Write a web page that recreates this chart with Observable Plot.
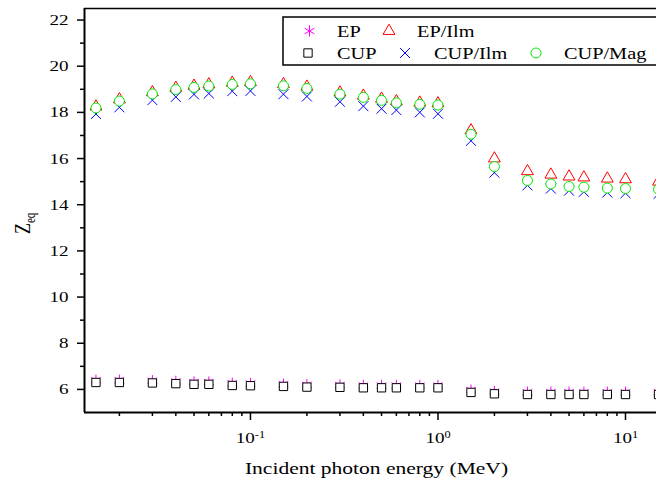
<!DOCTYPE html>
<html><head><meta charset="utf-8">
<script src="https://cdn.jsdelivr.net/npm/d3@7"></script>
<script src="https://cdn.jsdelivr.net/npm/@observablehq/plot@0.6"></script>
<style>
html,body{margin:0;padding:0;background:#fff;overflow:hidden;width:656px;height:481px}
#wrap{position:relative;width:656px;height:481px;overflow:hidden;background:#fff}
</style></head>
<body><div id="wrap"></div>
<script>
// ---- data ----
const energy = [0.015, 0.02, 0.03, 0.04, 0.05, 0.06, 0.08, 0.1, 0.15, 0.2, 0.3, 0.4, 0.5, 0.6, 0.8, 1, 1.5, 2, 3, 4, 5, 6, 8, 10, 15];
const ep     = [6.40, 6.40, 6.38, 6.35, 6.32, 6.32, 6.27, 6.26, 6.23, 6.20, 6.19, 6.17, 6.17, 6.17, 6.17, 6.17, 5.97, 5.91, 5.88, 5.88, 5.88, 5.88, 5.88, 5.88, 5.88];
const epIlm  = [18.25, 18.56, 18.87, 19.06, 19.15, 19.21, 19.28, 19.31, 19.22, 19.11, 18.86, 18.72, 18.59, 18.48, 18.42, 18.39, 17.22, 16.0, 15.45, 15.3, 15.22, 15.18, 15.13, 15.1, 15.0];
const cup    = [6.30, 6.30, 6.28, 6.25, 6.22, 6.22, 6.17, 6.16, 6.13, 6.10, 6.09, 6.07, 6.07, 6.07, 6.07, 6.07, 5.87, 5.81, 5.78, 5.78, 5.78, 5.78, 5.78, 5.78, 5.78];
const cupIlm = [17.93, 18.22, 18.53, 18.67, 18.78, 18.82, 18.92, 18.93, 18.79, 18.69, 18.46, 18.27, 18.16, 18.10, 18.00, 17.94, 16.77, 15.39, 14.84, 14.70, 14.61, 14.56, 14.53, 14.50, 14.47];
const cupMag = [18.19, 18.49, 18.80, 18.99, 19.08, 19.14, 19.21, 19.24, 19.15, 19.04, 18.79, 18.65, 18.52, 18.41, 18.35, 18.32, 17.05, 15.65, 15.05, 14.90, 14.79, 14.76, 14.72, 14.70, 14.67];
const seriesNames = ["EP", "EP/Ilm", "CUP", "CUP/Ilm", "CUP/Mag"];
const xMajor = [0.1, 1, 10];
const xMinor = [0.02,0.03,0.04,0.05,0.06,0.07,0.08,0.09, 0.2,0.3,0.4,0.5,0.6,0.7,0.8,0.9, 2,3,4,5,6,7,8,9, 20];
const yMajor = [6, 8, 10, 12, 14, 16, 18, 20, 22];
const yMinor = [7, 9, 11, 13, 15, 17, 19, 21];
const xTitle = "Incident photon energy (MeV)";

// ---- styles ----
const FONT = "'Liberation Serif','Times New Roman',serif";
const SX = 1.23;
const styles = [
  {symbol: "asterisk", stroke: "#ff00ff", fill: "none",  r: 5.3},
  {symbol: "triangle", stroke: "#ff0000", fill: "white", r: 4.4},
  {symbol: "square",   stroke: "#000000", fill: "white", r: 4.7},
  {symbol: "times",    stroke: "#0000ff", fill: "none",  r: 4.6},
  {symbol: "circle",   stroke: "#00ee00", fill: "white", r: 5}
];
const seriesVals = [ep, epIlm, cup, cupIlm, cupMag];

const W = 720, H = 481;
const plot = Plot.plot({
  width: W, height: H,
  marginLeft: 84, marginRight: 20, marginTop: 8, marginBottom: 69,
  style: {fontFamily: FONT, background: "white", color: "black"},
  x: {type: "log", domain: [Math.pow(10, -1.885), Math.pow(10, 1.4)]},
  y: {domain: [5, 22.5]},
  marks: [
    Plot.axisX({ticks: xMajor, tickSize: 8, tickPadding: 11, fontSize: 15.5, strokeWidth: 1.5,
      tickFormat: d => "10^" + Math.round(Math.log10(d)), label: null}),
    Plot.axisX({ticks: xMinor, tickSize: 4, strokeWidth: 1.5, tickFormat: () => "", label: null}),
    Plot.axisY({ticks: yMajor, tickSize: 7, tickPadding: 9, fontSize: 15.5, strokeWidth: 1.5, label: null}),
    Plot.axisY({ticks: yMinor, tickSize: 4, strokeWidth: 1.5, tickFormat: () => "", label: null}),
    Plot.ruleY([5], {stroke: "black", strokeWidth: 2}),
    Plot.ruleY([22.5], {stroke: "black", strokeWidth: 1.5}),
    Plot.ruleX([Math.pow(10, -1.885)], {stroke: "black", strokeWidth: 2}),
    ...seriesVals.map((vals, i) => Plot.dot(energy, {
      x: energy, y: vals, symbol: () => styles[i].symbol, fill: styles[i].fill,
      stroke: styles[i].stroke, r: styles[i].r, strokeWidth: 1
    }))
  ]
});
plot.style.maxWidth = "none";
plot.style.width = W + "px";
plot.style.height = H + "px";
plot.style.display = "block";
document.getElementById("wrap").appendChild(plot);

const svg = d3.select(plot);
// stretch texts horizontally like the reference
svg.selectAll("text").each(function() {
  const t = this.getAttribute("transform") || "";
  this.setAttribute("transform", (t + ` scale(${SX},1)`).trim());
});
// superscript exponents on x tick labels
svg.selectAll("text").each(function() {
  const s = this.textContent;
  if (s && s.startsWith("10^")) {
    const exp = s.slice(3);
    const el = d3.select(this);
    el.text("10");
    el.append("tspan").attr("font-size", 10).attr("dy", "-5").text(exp);
  }
});

// axis title
svg.append("text")
  .attr("transform", `translate(376.5,474) scale(${SX},1)`)
  .attr("text-anchor", "middle")
  .attr("font-family", FONT).attr("font-size", 17.5).attr("fill", "black")
  .text(xTitle);

// y label Z_eq
const yl = svg.append("text")
  .attr("transform", `translate(30,234) scale(${SX},1) rotate(-90)`)
  .attr("text-anchor", "start")
  .attr("font-family", FONT).attr("font-size", 18).attr("fill", "black");
yl.append("tspan").text("Z");
yl.append("tspan").attr("font-size", 11).attr("dy", 4).text("eq");

// legend
const lg = svg.append("g").attr("font-family", FONT).attr("font-size", 16.5).attr("text-anchor", "start");
lg.append("rect").attr("x", 283).attr("y", 17).attr("width", 430).attr("height", 48)
  .attr("fill", "white").attr("stroke", "black").attr("stroke-width", 1.5);
const legendItems = [
  {i: 0, sx: 309.5, sy: 31, tx: 337, ty: 37},
  {i: 1, sx: 389,   sy: 31, tx: 417, ty: 37},
  {i: 2, sx: 308,   sy: 53, tx: 337, ty: 59},
  {i: 3, sx: 405,   sy: 53, tx: 434, ty: 59},
  {i: 4, sx: 536,   sy: 53, tx: 564, ty: 59}
];
const symMap = {asterisk: d3.symbolAsterisk, triangle: d3.symbolTriangle, square: d3.symbolSquare, times: d3.symbolTimes, circle: d3.symbolCircle};
legendItems.forEach(it => {
  const st = styles[it.i];
  lg.append("path")
    .attr("d", d3.symbol(symMap[st.symbol], st.r * st.r * Math.PI)())
    .attr("transform", `translate(${it.sx},${it.sy})`)
    .attr("fill", st.fill).attr("stroke", st.stroke).attr("stroke-width", 1);
  lg.append("text")
    .attr("transform", `translate(${it.tx},${it.ty}) scale(${SX},1)`)
    .attr("text-anchor", "start")
    .attr("fill", "black").text(seriesNames[it.i]);
});
</script>
</body></html>
